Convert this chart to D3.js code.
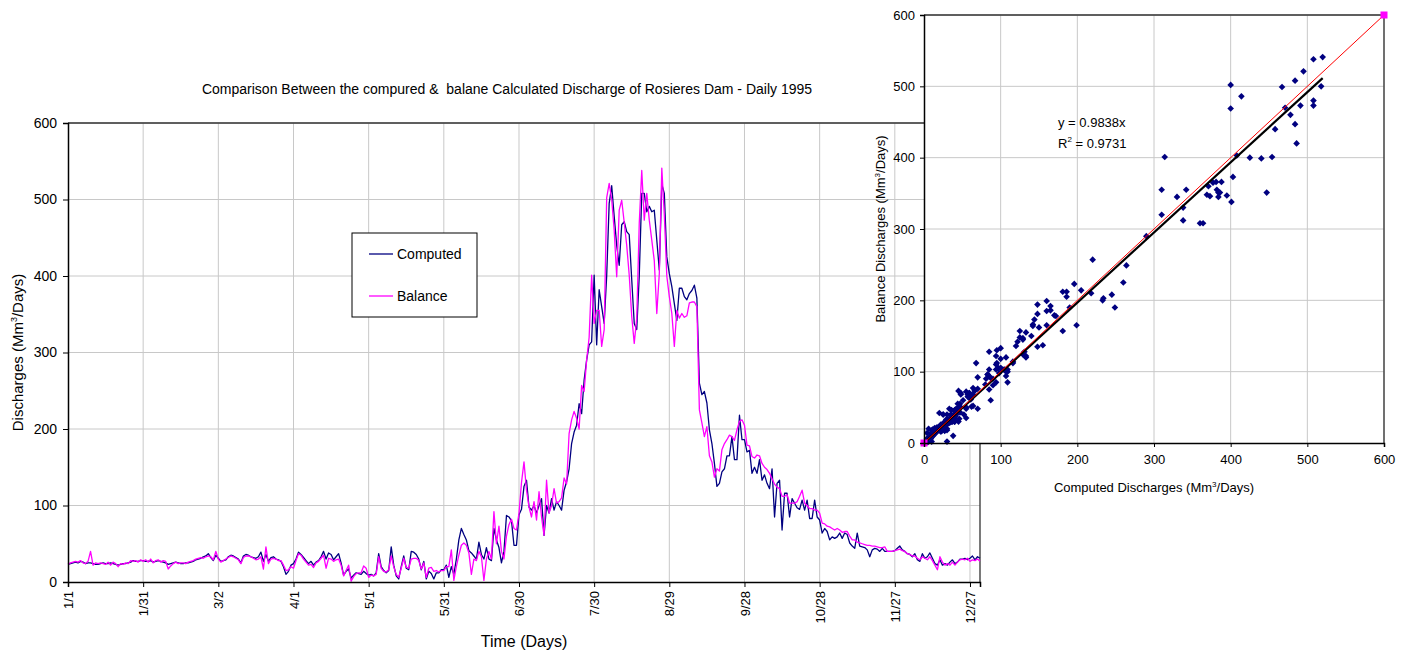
<!DOCTYPE html>
<html>
<head>
<meta charset="utf-8">
<script src="https://cdn.jsdelivr.net/npm/d3@7"></script>
<style>
  html, body { margin: 0; padding: 0; background: #fff; }
  svg { display: block; font-family: "Liberation Sans", Arial, sans-serif; }
</style>
</head>
<body>
<svg id="chart" width="1410" height="655"></svg>
<script>
// Daily discharges of Rosieres Dam, 1995 (Mm3/day), day index 0 = 1 Jan
const computed = [
  23,24,25,26,25,27,26,24,25,25,  24,23,23,24,25,24,24,25,24,23,
  22,23,24,24,25,26,28,27,27,28,  28,27,27,28,26,27,28,27,26,25,
  23,24,25,26,25,24,24,25,25,26,  27,29,30,31,33,34,37,32,28,35,
  31,27,28,29,33,35,34,32,30,25,  34,36,35,33,32,31,33,39,27,36,
  27,32,33,30,29,27,20,10,14,22,  24,30,39,36,32,28,24,27,22,26,
  28,33,40,30,38,36,29,33,37,25,  9,14,17,5,9,12,11,10,14,11,
  9,10,8,12,37,20,15,12,15,46,    22,8,4,20,34,18,16,40,39,36,
  30,16,27,4,14,11,4,12,12,16,    16,22,6,20,10,30,55,70,62,55,
  41,38,34,30,52,36,30,45,30,28,  70,55,45,25,40,87,85,80,48,48,
  88,95,125,133,98,94,100,90,100,109,  61,100,90,109,94,105,100,94,120,131,
  148,181,196,205,233,220,264,290,310,314,  401,310,382,360,338,400,495,518,478,440,
  414,467,471,458,454,395,338,330,400,508,  508,484,491,484,486,447,408,520,508,425,
  403,386,364,342,384,384,373,369,377,381,  388,371,260,245,249,234,199,181,155,125,
  129,144,148,165,165,190,160,160,218,186,  186,170,172,142,150,142,160,133,140,129,
  122,148,85,129,133,68,116,116,85,109,  103,97,95,107,94,107,83,83,107,85,
  81,64,70,66,55,59,57,59,64,57,  64,62,51,47,44,64,47,46,45,42,
  33,42,44,43,40,44,40,40,40,40,  41,44,47,42,40,37,36,33,37,29,
  27,37,31,33,38,31,24,22,29,22,  24,22,26,29,24,26,30,30,31,29,
  31,34,29,33,31
];
const balance = [
  23,25,26,27,26,28,25,24,27,40,  22,25,24,25,24,23,26,22,26,24,
  20,24,23,25,24,28,27,28,26,29,  27,29,26,30,25,28,29,26,28,27,
  17,21,24,26,24,25,25,24,26,27,  28,30,31,32,31,33,34,33,29,40,
  30,26,28,30,32,34,33,31,29,24,  32,34,34,33,31,29,30,33,17,46,
  24,30,31,30,28,28,22,15,16,20,  18,28,37,35,30,26,22,23,19,25,
  27,31,35,18,31,30,27,29,30,22,  8,15,22,1,7,11,12,12,21,18,
  6,9,8,10,33,18,14,13,16,34,     20,10,6,18,31,19,18,30,31,31,
  28,17,25,6,18,19,14,15,13,15,   15,20,20,42,2,20,35,48,51,48,
  38,10,30,28,40,33,2,30,40,30,   92,50,73,40,30,60,75,82,70,68,
  90,130,157,120,98,85,105,81,118,85,  61,133,90,100,122,103,105,110,136,128,
  194,212,223,214,200,257,249,290,320,401,  338,355,355,308,330,502,521,500,460,399,
  486,499,470,440,401,347,312,345,469,538,  473,508,473,447,420,351,403,541,480,400,
  373,351,308,355,345,351,346,348,365,366,  366,360,225,208,190,203,165,157,137,148,
  145,173,181,186,192,190,185,199,210,212,  205,179,178,164,162,166,165,155,150,147,
  142,135,128,124,122,112,112,114,103,103,  103,105,112,120,103,100,96,96,94,94,
  90,77,76,73,72,70,68,70,68,65,  66,66,60,55,55,52,51,50,49,48,
  48,47,47,46,45,45,46,40,40,40,  41,42,43,41,40,37,36,34,34,31,
  29,33,31,29,33,28,22,16,33,26,  22,24,22,26,22,26,29,30,29,31,
  27,29,28,30,27
];
const dayTicks   = [0, 30, 60, 90, 120, 150, 180, 210, 240, 270, 300, 330, 360];
const tickLabels = ["1/1","1/31","3/2","4/1","5/1","5/31","6/30","7/30","8/29","9/28","10/28","11/27","12/27"];
const valueTicks = [0, 100, 200, 300, 400, 500, 600];
const seriesNames  = ["Computed", "Balance"];
const seriesColors = ["#000080", "#FF00FF"];
const trendSlope = 0.9838;
const trendR2 = 0.9731;

const svg = d3.select("#chart");

// ---------- time-series chart ----------
const M = { left: 68, right: 980, top: 123, bottom: 582 };
const x = d3.scaleLinear().domain([0, computed.length - 1]).range([M.left, M.right]);
const y = d3.scaleLinear().domain([0, 600]).range([M.bottom, M.top]);

const main = svg.append("g");

// gridlines
main.append("g").selectAll("line").data(valueTicks.slice(1)).join("line")
  .attr("x1", M.left).attr("x2", M.right)
  .attr("y1", d => y(d)).attr("y2", d => y(d))
  .attr("stroke", "#c8c8c8").attr("stroke-width", 1);
main.append("g").selectAll("line").data(dayTicks.slice(1)).join("line")
  .attr("x1", d => x(d)).attr("x2", d => x(d))
  .attr("y1", M.top).attr("y2", M.bottom)
  .attr("stroke", "#c8c8c8").attr("stroke-width", 1);

// plot border (top and right)
main.append("path")
  .attr("d", `M${M.left},${M.top}H${M.right}V${M.bottom}`)
  .attr("fill", "none").attr("stroke", "#333").attr("stroke-width", 1.3);

// series lines
const line = d3.line().x((d, i) => x(i)).y(d => y(d));
[computed, balance].forEach((s, k) => {
  main.append("path").datum(s)
    .attr("d", line)
    .attr("fill", "none")
    .attr("stroke", seriesColors[k])
    .attr("stroke-width", 1.3)
    .attr("stroke-linejoin", "round");
});

// y axis
const yAxis = d3.axisLeft(y).tickValues(valueTicks).tickSize(5).tickPadding(6);
const gy = main.append("g").attr("transform", `translate(${M.left},0)`).call(yAxis);
gy.select(".domain").attr("stroke", "#000").attr("stroke-width", 1.5);
gy.selectAll(".tick line").attr("stroke", "#000");
gy.selectAll(".tick text").attr("font-size", 14).attr("fill", "#000")
  .attr("font-family", "Liberation Sans, Arial, sans-serif");

// x axis
const xAxis = d3.axisBottom(x).tickValues(dayTicks).tickFormat((d, i) => tickLabels[i]).tickSize(5).tickPadding(6);
const gx = main.append("g").attr("transform", `translate(0,${M.bottom})`).call(xAxis);
gx.select(".domain").attr("stroke", "#000").attr("stroke-width", 1.5);
gx.selectAll(".tick line").attr("stroke", "#000");
gx.selectAll(".tick text")
  .attr("font-size", 13).attr("fill", "#000")
  .attr("font-family", "Liberation Sans, Arial, sans-serif")
  .attr("text-anchor", "end")
  .attr("dy", "0.35em")
  .attr("transform", "translate(0,6) rotate(-90)")
  .attr("x", -3).attr("y", 0);

// axis titles
const yt = main.append("text")
  .attr("transform", `translate(23,${(M.top + M.bottom) / 2}) rotate(-90)`)
  .attr("text-anchor", "middle").attr("font-size", 15).attr("fill", "#000");
yt.append("tspan").text("Discharges (Mm");
yt.append("tspan").text("3").attr("font-size", 9).attr("dy", -6);
yt.append("tspan").text("/Days)").attr("dy", 6);

main.append("text")
  .attr("x", 524).attr("y", 647)
  .attr("text-anchor", "middle").attr("font-size", 16).attr("fill", "#000")
  .text("Time (Days)");

main.append("text")
  .attr("x", 507).attr("y", 94)
  .attr("text-anchor", "middle").attr("font-size", 14).attr("fill", "#000")
  .attr("xml:space", "preserve")
  .text("Comparison Between the compured &  balane Calculated Discharge of Rosieres Dam - Daily 1995");

// legend
const lg = main.append("g").attr("transform", "translate(352,233)");
lg.append("rect").attr("width", 125).attr("height", 84)
  .attr("fill", "#fff").attr("stroke", "#000").attr("stroke-width", 1);
seriesNames.forEach((n, k) => {
  const yy = 21 + k * 42;
  lg.append("line").attr("x1", 17).attr("x2", 41).attr("y1", yy).attr("y2", yy)
    .attr("stroke", seriesColors[k]).attr("stroke-width", 1.3);
  lg.append("text").attr("x", 45).attr("y", yy + 5)
    .attr("font-size", 14).attr("fill", "#000").text(n);
});

// ---------- scatter: balance vs computed ----------
const S = { left: 924, right: 1384, top: 15, bottom: 443 };
const sx = d3.scaleLinear().domain([0, 600]).range([S.left, S.right]);
const sy = d3.scaleLinear().domain([0, 600]).range([S.bottom, S.top]);
const sc = svg.append("g");

sc.append("rect").attr("x", S.left).attr("y", S.top)
  .attr("width", S.right - S.left).attr("height", S.bottom - S.top)
  .attr("fill", "#fff");

sc.append("g").selectAll("line").data(valueTicks.slice(1)).join("line")
  .attr("x1", S.left).attr("x2", S.right)
  .attr("y1", d => sy(d)).attr("y2", d => sy(d))
  .attr("stroke", "#c8c8c8");
sc.append("g").selectAll("line").data(valueTicks.slice(1)).join("line")
  .attr("x1", d => sx(d)).attr("x2", d => sx(d))
  .attr("y1", S.top).attr("y2", S.bottom)
  .attr("stroke", "#c8c8c8");

sc.append("path")
  .attr("d", `M${S.left},${S.top}H${S.right}V${S.bottom}`)
  .attr("fill", "none").attr("stroke", "#333").attr("stroke-width", 1.3);

const pairs = computed.map((c, i) => [c, balance[i]]);
sc.append("g").selectAll("path").data(pairs).join("path")
  .attr("d", d3.symbol(d3.symbolSquare, 22))
  .attr("transform", d => `translate(${sx(d[0])},${sy(d[1])}) rotate(45)`)
  .attr("fill", "#000080");

// regression through origin
const cMax = d3.max(computed);
sc.append("line")
  .attr("x1", sx(0)).attr("y1", sy(0))
  .attr("x2", sx(cMax)).attr("y2", sy(trendSlope * cMax))
  .attr("stroke", "#000").attr("stroke-width", 2.2);

// 1:1 line with end markers
const oneToOne = [[0, 0], [600, 600]];
sc.append("path").datum(oneToOne)
  .attr("d", d3.line().x(d => sx(d[0])).y(d => sy(d[1])))
  .attr("stroke", "#FF0000").attr("stroke-width", 1).attr("fill", "none");
sc.append("g").selectAll("rect").data(oneToOne).join("rect")
  .attr("x", d => sx(d[0]) - 3.5).attr("y", d => sy(d[1]) - 3.5)
  .attr("width", 7).attr("height", 7).attr("fill", "#FF00FF");

const sxa = sc.append("g").attr("transform", `translate(0,${S.bottom})`)
  .call(d3.axisBottom(sx).tickValues(valueTicks).tickSize(4).tickPadding(8));
const sya = sc.append("g").attr("transform", `translate(${S.left},0)`)
  .call(d3.axisLeft(sy).tickValues(valueTicks).tickSize(4).tickPadding(5));
[sxa, sya].forEach(g => {
  g.select(".domain").attr("stroke", "#000").attr("stroke-width", 1.5);
  g.selectAll(".tick line").attr("stroke", "#000");
  g.selectAll(".tick text").attr("font-size", 13).attr("fill", "#000")
    .attr("font-family", "Liberation Sans, Arial, sans-serif");
});

const sxt = sc.append("text").attr("x", (S.left + S.right) / 2).attr("y", 492)
  .attr("text-anchor", "middle").attr("font-size", 13).attr("fill", "#000");
sxt.append("tspan").text("Computed Discharges (Mm");
sxt.append("tspan").text("3").attr("font-size", 8).attr("dy", -5);
sxt.append("tspan").text("/Days)").attr("dy", 5);

const syt = sc.append("text")
  .attr("transform", `translate(885,${(S.top + S.bottom) / 2}) rotate(-90)`)
  .attr("text-anchor", "middle").attr("font-size", 13).attr("fill", "#000");
syt.append("tspan").text("Balance Discharges (Mm");
syt.append("tspan").text("3").attr("font-size", 8).attr("dy", -5);
syt.append("tspan").text("/Days)").attr("dy", 5);

sc.append("text").attr("x", 1058).attr("y", 127).attr("font-size", 13).attr("fill", "#000")
  .text(`y = ${trendSlope}x`);
const r2 = sc.append("text").attr("x", 1058).attr("y", 148).attr("font-size", 13).attr("fill", "#000");
r2.append("tspan").text("R");
r2.append("tspan").text("2").attr("font-size", 8).attr("dy", -6);
r2.append("tspan").text(` = ${trendR2}`).attr("dy", 6);
</script>
</body>
</html>
